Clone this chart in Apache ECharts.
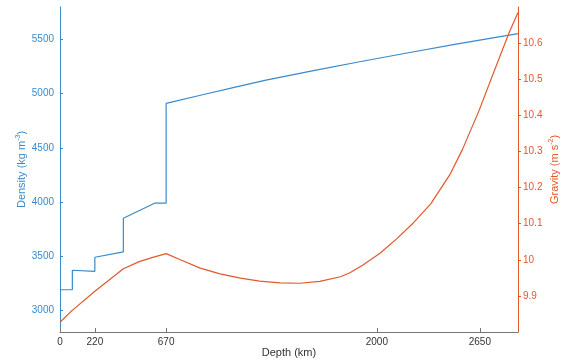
<!DOCTYPE html>
<html>
<head>
<meta charset="utf-8">
<script src="https://cdn.jsdelivr.net/npm/echarts@6/dist/echarts.min.js"></script>
<style>
  html, body { margin: 0; padding: 0; background: #fff; }
  #chart { width: 564px; height: 364px; }
</style>
</head>
<body>
<div id="chart"></div>
<script>
  // density profile (kg m^-3) vs depth (km)
  var densityDepth = [0, 78, 78, 220, 220, 400, 400, 600, 670, 670, 900, 1100, 1300, 1600, 1900, 2200, 2500, 2891];
  var densityValue = [3190, 3190, 3370, 3360, 3490, 3540, 3850, 3990, 3990, 4910, 4990, 5058, 5125, 5212, 5297, 5378, 5458, 5555];

  // gravity (m s^-2) vs depth (km)
  var gravityDepth = [0, 70, 220, 400, 500, 580, 670, 760, 885, 1010, 1140, 1260, 1390, 1515, 1640, 1770, 1830, 1910, 2020, 2125, 2230, 2340, 2460, 2540, 2645, 2750, 2836, 2891];
  var gravityValue = [9.827, 9.857, 9.913, 9.975, 9.995, 10.006, 10.017, 10.0, 9.977, 9.961, 9.949, 9.941, 9.936, 9.935, 9.940, 9.953, 9.964, 9.985, 10.018, 10.058, 10.102, 10.155, 10.235, 10.305, 10.413, 10.533, 10.630, 10.685];

  var depthTicks = [0, 220, 670, 2000, 2650];
  var densityTicks = [3000, 3500, 4000, 4500, 5000, 5500];
  var gravityTicks = [9.9, 10, 10.1, 10.2, 10.3, 10.4, 10.5, 10.6];

  var blue = '#3A8ACB';
  var orange = '#E2582A';
  var font = 'Liberation Sans, Arial, sans-serif';

  function pairs(xs, ys) {
    var out = [];
    for (var i = 0; i < xs.length; i++) {
      out.push([xs[i], ys[i]]);
    }
    return out;
  }

  function plain(v) {
    return String(Math.round(v * 10) / 10);
  }

  var myChart = echarts.init(document.getElementById('chart'));
  myChart.setOption({
    animation: false,
    backgroundColor: '#fff',
    grid: {
      left: 60, right: 46, top: 7, bottom: 32,
      containLabel: false,
      outerBoundsMode: 'none'
    },
    xAxis: {
      type: 'value',
      min: 0,
      max: 2891,
      name: 'Depth (km)',
      nameLocation: 'middle',
      nameGap: 15,
      nameMoveOverlap: false,
      nameTextStyle: { color: '#333', fontSize: 11, fontFamily: font },
      axisLine: { lineStyle: { color: '#777', width: 1 } },
      axisTick: { inside: true, length: 4, customValues: depthTicks, lineStyle: { color: '#777' } },
      axisLabel: { customValues: depthTicks, color: '#333', fontSize: 10, fontFamily: font, margin: 5, formatter: plain },
      splitLine: { show: false }
    },
    yAxis: [
      {
        type: 'value',
        position: 'left',
        min: 2800,
        max: 5800,
        name: 'Density (kg m{sup|-3})',
        nameLocation: 'middle',
        nameRotate: 90,
        nameGap: 32,
        nameMoveOverlap: false,
        nameTextStyle: {
          color: blue, fontSize: 11, fontFamily: font,
          rich: { sup: { fontSize: 7, color: blue, fontFamily: font, verticalAlign: 'top', padding: [0, 0, 6, 0] } }
        },
        axisLine: { show: true, lineStyle: { color: blue, width: 1 } },
        axisTick: { show: true, inside: true, length: 3, customValues: densityTicks, lineStyle: { color: blue } },
        axisLabel: { customValues: densityTicks, color: blue, fontSize: 10, fontFamily: font, margin: 6, formatter: plain },
        splitLine: { show: false }
      },
      {
        type: 'value',
        position: 'right',
        min: 9.8,
        max: 10.7,
        name: 'Gravity (m s{sup|-2})',
        nameLocation: 'middle',
        nameRotate: 90,
        nameGap: 30,
        nameMoveOverlap: false,
        nameTextStyle: {
          color: orange, fontSize: 11, fontFamily: font,
          rich: { sup: { fontSize: 7, color: orange, fontFamily: font, verticalAlign: 'top', padding: [0, 0, 6, 0] } }
        },
        axisLine: { show: true, lineStyle: { color: orange, width: 1 } },
        axisTick: { show: true, inside: false, length: 3, customValues: gravityTicks, lineStyle: { color: orange } },
        axisLabel: { customValues: gravityTicks, color: orange, fontSize: 10, fontFamily: font, margin: 5, formatter: plain },
        splitLine: { show: false }
      }
    ],
    series: [
      {
        name: 'Density',
        type: 'line',
        yAxisIndex: 0,
        data: pairs(densityDepth, densityValue),
        showSymbol: false,
        lineStyle: { color: blue, width: 1.2 },
        itemStyle: { color: blue }
      },
      {
        name: 'Gravity',
        type: 'line',
        yAxisIndex: 1,
        data: pairs(gravityDepth, gravityValue),
        showSymbol: false,
        lineStyle: { color: orange, width: 1.2 },
        itemStyle: { color: orange }
      }
    ]
  });
</script>
</body>
</html>
